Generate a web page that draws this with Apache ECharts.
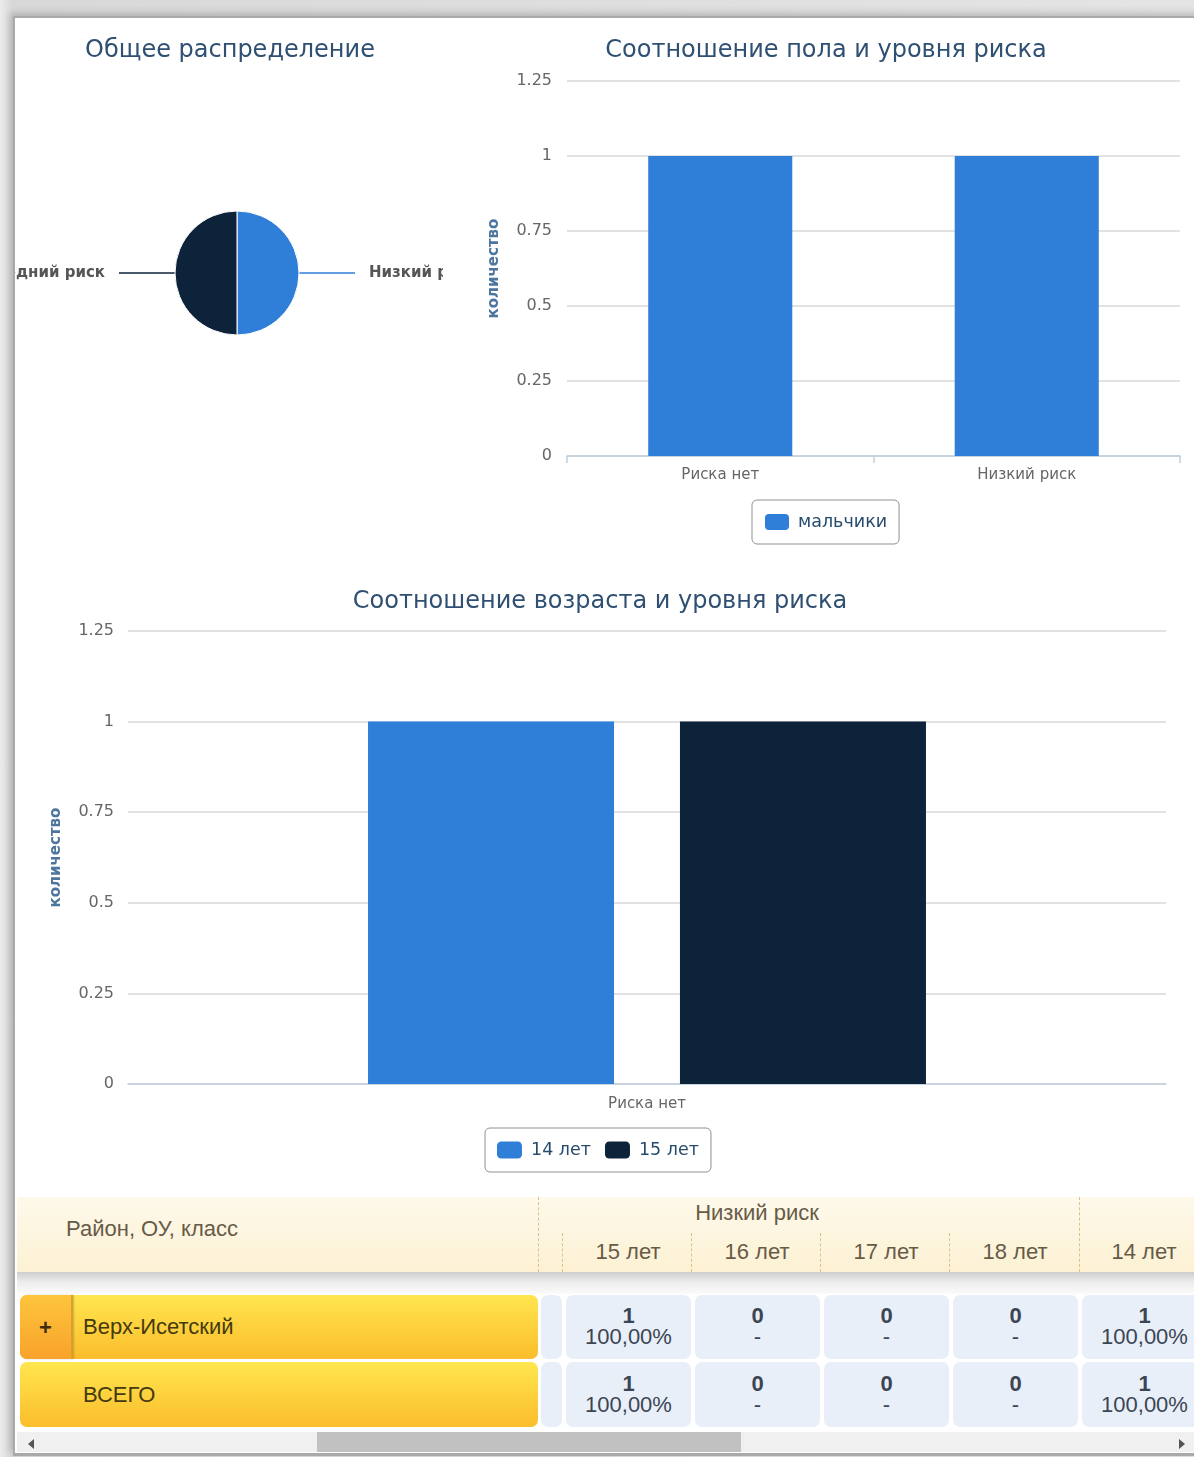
<!DOCTYPE html>
<html><head><meta charset="utf-8">
<script src="https://cdn.jsdelivr.net/npm/echarts@6/dist/echarts.min.js"></script>
<style>
html,body{margin:0;padding:0;width:1194px;height:1457px;overflow:hidden;background:linear-gradient(90deg,#ececec,#d8d8d8 1%,#e4e4e4);font-family:'Liberation Sans',Arial,sans-serif;}
#frame{position:absolute;left:13px;top:16px;width:1220px;height:1435px;background:#fff;border-left:2px solid #a9a9a9;border-top:2px solid #a9a9a9;border-bottom:3px solid #a9a9a9;box-shadow:-3px -3px 7px rgba(0,0,0,0.18);}
#pieWrap{position:absolute;left:15px;top:18px;width:428px;height:530px;overflow:hidden;}
#pie{position:absolute;left:-300px;top:0;width:1030px;height:530px;}
#bar1{position:absolute;left:443px;top:18px;width:766px;height:540px;}
#bar2{position:absolute;left:14px;top:570px;width:1172px;height:620px;}
#hdr{position:absolute;left:17px;top:1197px;width:1190px;height:75px;background:linear-gradient(#fef9eb,#fcf1d3);}
.dash{position:absolute;border-left:1px dashed #dcc28a;width:0;}
.htxt{position:absolute;font-size:22px;color:#675b47;white-space:nowrap;transform:translate(-50%,-50%);}
#shadow{position:absolute;left:17px;top:1272px;width:1190px;height:22px;background:linear-gradient(#cdcdcd,#ececec 45%,#fbfbfb);}
.ycell{position:absolute;border-radius:7px;background:linear-gradient(#ffe64f,#fbbd2b);}
.plus{position:absolute;border-radius:7px 0 0 7px;background:linear-gradient(#fdc53c,#f9a22b);border-right:2px solid #d9a02a;box-shadow:1px 0 2px rgba(0,0,0,0.2);}
.plus span{position:absolute;left:50%;top:50%;transform:translate(-50%,-46%);font-weight:bold;font-size:22px;color:#3c2f10;}
.ytxt{position:absolute;font-size:22px;color:#45390f;white-space:nowrap;transform:translateY(-50%);}
.bcell{position:absolute;border-radius:7px;background:#e9eff9;}
.btxt{position:absolute;left:0;right:0;top:50%;transform:translateY(-52%);text-align:center;font-size:22px;line-height:21px;color:#3b4654;}
#sb{position:absolute;left:17px;top:1432px;width:1190px;height:20px;background:#f0f0f0;}
#thumb{position:absolute;left:317px;top:1432px;width:424px;height:20px;background:#c1c1c1;}
.arrL{position:absolute;width:0;height:0;border-top:5px solid transparent;border-bottom:5px solid transparent;border-right:6px solid #555;}
.arrR{position:absolute;width:0;height:0;border-top:5px solid transparent;border-bottom:5px solid transparent;border-left:6px solid #555;}
</style></head>
<body>
<div id="frame"></div>
<div id="pieWrap"><div id="pie"></div></div>
<div id="bar1"></div>
<div id="bar2"></div>
<div id="table"></div>
<script>
// ---------- data ----------
const pieTitle = 'Общее распределение';
const pieNames = ['Низкий риск', 'Средний риск'];
const pieValues = [1, 1];

const genderTitle = 'Соотношение пола и уровня риска';
const genderCategories = ['Риска нет', 'Низкий риск'];
const genderSeriesName = 'мальчики';
const boysValues = [1, 1];

const ageTitle = 'Соотношение возраста и уровня риска';
const ageCategories = ['Риска нет'];
const age14Name = '14 лет';
const age14Values = [1];
const age15Name = '15 лет';
const age15Values = [1];

const yAxisName = 'количество';
const yTicks = [0, 0.25, 0.5, 0.75, 1, 1.25];

const tableCornerLabel = 'Район, ОУ, класс';
const tableGroupLabel = 'Низкий риск';
const tableColumns = ['15 лет', '16 лет', '17 лет', '18 лет', '14 лет'];
const tableRowNames = ['Верх-Исетский', 'ВСЕГО'];
const tableCounts = [[1, 0, 0, 0, 1], [1, 0, 0, 0, 1]];
const tablePercents = [['100,00%', '-', '-', '-', '100,00%'], ['100,00%', '-', '-', '-', '100,00%']];

// ---------- styles ----------
const F = "'DejaVu Sans', Verdana, sans-serif";
const BLUE = '#2f7ed8', DARK = '#0d233a';
const TITLE = {fontSize: 24, fontWeight: 'normal', color: '#2f5073', fontFamily: F};

// ---------- pie ----------
const pie = echarts.init(document.getElementById('pie'));
pie.setOption({
  animation: false,
  textStyle: {fontFamily: F},
  title: {text: pieTitle, left: 'center', top: 21, padding: 0, textStyle: TITLE},
  series: [{
    type: 'pie', center: [522, 255], radius: 62, startAngle: 90, clockwise: true,
    avoidLabelOverlap: false,
    itemStyle: {borderColor: '#fff', borderWidth: 1},
    label: {show: true, position: 'outside', fontSize: 15, fontWeight: 'bold', color: '#555', fontFamily: F},
    labelLine: {show: true, length: 56, length2: 0, lineStyle: {width: 1.5}},
    data: pieNames.map((n, i) => ({
      name: n, value: pieValues[i],
      itemStyle: {color: [BLUE, DARK][i]},
      label: {padding: i === 0 ? [6, 0, 0, 9] : [6, 9, 0, 0]}
    }))
  }]
});

function yAxisCfg(nameGap, margin) {
  return {
    type: 'value', min: yTicks[0], max: yTicks[yTicks.length - 1], interval: yTicks[1] - yTicks[0],
    name: yAxisName, nameLocation: 'middle', nameRotate: 90, nameGap: nameGap,
    nameTextStyle: {fontSize: 15, fontWeight: 'bold', color: '#4d759e', fontFamily: F},
    axisLabel: {fontSize: 16, color: '#666', margin: margin, fontFamily: F},
    axisLine: {show: false}, axisTick: {show: false},
    splitLine: {lineStyle: {color: '#d9d9d9', width: 1.5}}
  };
}

const LEGEND_TEXT = {fontSize: 17.5, color: '#274b6d', fontFamily: F, padding: [0, 0, 0, 4]};

// ---------- gender bar ----------
const bar1 = echarts.init(document.getElementById('bar1'));
bar1.setOption({
  animation: false,
  textStyle: {fontFamily: F},
  title: {text: genderTitle, left: 'center', top: 21, padding: 0, textStyle: TITLE},
  grid: {left: 124, top: 63, width: 613, height: 375, containLabel: false},
  xAxis: {
    type: 'category', data: genderCategories,
    axisLine: {lineStyle: {color: '#c0d0e0', width: 1.5}},
    axisTick: {show: true, length: 7, lineStyle: {color: '#c0d0e0', width: 1.5}},
    axisLabel: {fontSize: 15, color: '#666', margin: 12, fontFamily: F}
  },
  yAxis: yAxisCfg(65, 15),
  legend: {
    left: 309, top: 482, padding: [13, 12, 13, 13], itemWidth: 24, itemHeight: 16,
    borderColor: '#909090', borderWidth: 1, borderRadius: 5, icon: 'roundRect',
    textStyle: LEGEND_TEXT,
    data: [genderSeriesName]
  },
  series: [{type: 'bar', name: genderSeriesName, data: boysValues, barWidth: '47%', itemStyle: {color: BLUE}}]
});

// ---------- age bar ----------
const bar2 = echarts.init(document.getElementById('bar2'));
bar2.setOption({
  animation: false,
  textStyle: {fontFamily: F},
  title: {text: ageTitle, left: 'center', top: 20, padding: 0, textStyle: TITLE},
  grid: {left: 114, top: 61, width: 1038, height: 453, containLabel: false},
  xAxis: {
    type: 'category', data: ageCategories,
    axisLine: {lineStyle: {color: '#c0d0e0', width: 1.5}},
    axisTick: {show: false},
    axisLabel: {fontSize: 15, color: '#666', margin: 13, fontFamily: F}
  },
  yAxis: yAxisCfg(64, 14),
  legend: {
    left: 471, top: 558, padding: [13, 12, 13, 12], itemWidth: 25, itemHeight: 17, itemGap: 14,
    borderColor: '#909090', borderWidth: 1, borderRadius: 5, icon: 'roundRect',
    textStyle: LEGEND_TEXT,
    data: [age14Name, age15Name]
  },
  series: [
    {type: 'bar', name: age14Name, data: age14Values, barWidth: '23.7%', barGap: '26.8%', itemStyle: {color: BLUE}},
    {type: 'bar', name: age15Name, data: age15Values, barWidth: '23.7%', barGap: '26.8%', itemStyle: {color: DARK}}
  ]
});

// ---------- table ----------
(function () {
  const t = document.getElementById('table');
  let h = '';
  h += '<div id="hdr"></div>';
  h += '<div class="dash" style="left:538px;top:1197px;height:75px"></div>';
  h += '<div class="dash" style="left:1079px;top:1197px;height:75px"></div>';
  [562, 691, 820, 949].forEach(x => { h += '<div class="dash" style="left:' + x + 'px;top:1233px;height:39px"></div>'; });
  h += '<div class="htxt" style="left:152px;top:1229px">' + tableCornerLabel + '</div>';
  h += '<div class="htxt" style="left:757px;top:1213px">' + tableGroupLabel + '</div>';
  const colL = [566, 695, 824, 953, 1082];
  const colW = 125;
  tableColumns.forEach((c, i) => {
    h += '<div class="htxt" style="left:' + (colL[i] + 62) + 'px;top:1252px">' + c + '</div>';
  });
  h += '<div id="shadow"></div>';
  const rowT = [1295, 1362], rowH = [64, 65];
  tableRowNames.forEach((name, r) => {
    h += '<div class="ycell" style="left:20px;top:' + rowT[r] + 'px;width:518px;height:' + rowH[r] + 'px"></div>';
    if (r === 0) {
      h += '<div class="plus" style="left:20px;top:' + rowT[r] + 'px;width:51px;height:' + rowH[r] + 'px"><span>+</span></div>';
    }
    h += '<div class="ytxt" style="left:83px;top:' + (rowT[r] + rowH[r] / 2) + 'px">' + name + '</div>';
    h += '<div class="bcell" style="left:541px;top:' + rowT[r] + 'px;width:21px;height:' + rowH[r] + 'px"></div>';
    colL.forEach((x, i) => {
      h += '<div class="bcell" style="left:' + x + 'px;top:' + rowT[r] + 'px;width:' + (i === 4 ? 140 : colW) + 'px;height:' + rowH[r] + 'px">' +
        '<div class="btxt"' + (i === 4 ? ' style="right:15px"' : '') + '><b>' + tableCounts[r][i] + '</b><br>' + tablePercents[r][i] + '</div></div>';
    });
  });
  h += '<div id="sb"></div><div id="thumb"></div>';
  h += '<div class="arrL" style="left:28px;top:1439px"></div>';
  h += '<div class="arrR" style="left:1179px;top:1439px"></div>';
  t.innerHTML = h;
})();
</script>
</body></html>
